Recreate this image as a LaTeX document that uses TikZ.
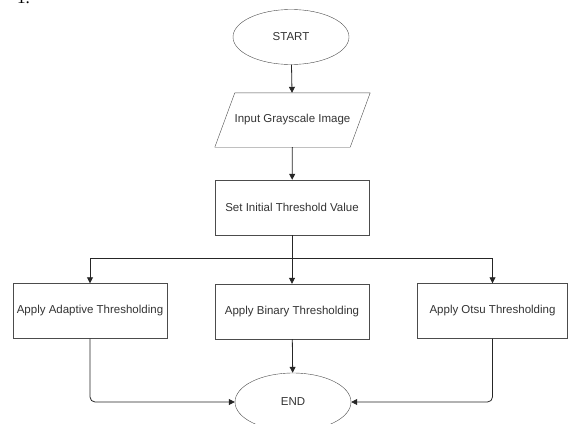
\documentclass[tikz,border=0pt]{standalone}
\usepackage{fontspec}
\setmainfont{Liberation Sans}
\newfontfamily\numfont{Liberation Serif}
\usepackage{tikz}
\usetikzlibrary{arrows.meta,shapes.geometric}

\begin{document}
\begin{tikzpicture}[x=1pt,y=-1pt,>={Triangle[length=6pt,width=6pt]},
  every node/.style={font=\fontsize{11.5}{13}\selectfont,text=black!80},
  term/.style={draw=black!70,ellipse,minimum width=116pt,minimum height=55pt,inner sep=0pt},
  io/.style={rectangle,minimum width=135pt,minimum height=54pt,inner sep=0pt},
  proc/.style={draw=black!70,rectangle,minimum width=154pt,minimum height=55pt,inner sep=0pt},
  flow/.style={->,draw=black!85,line width=0.8pt}]
  \useasboundingbox (0,0) rectangle (569,423);
  \clip (0,0) rectangle (569,423);

  % leftover caption number
  \node[anchor=base west,inner sep=0pt,font=\numfont\fontsize{17}{18}\selectfont,text=black] (num) at (17,3) {1.};

  % main column
  \node[term] (start) at (291,37) {START};
  \node[io] (input) at (292.5,120) {Input Grayscale Image};
  \draw[black!70] ([xshift=-10pt]input.south west) -- ([xshift=10pt]input.north west)
    -- ([xshift=10pt]input.north east) -- ([xshift=-10pt]input.south east) -- cycle;
  \node[proc] (thresh) at (292,207.5) {Set Initial Threshold Value};
  \coordinate (split) at (292,258);

  % three methods
  \node[proc] (adaptive) at (90,311) {Apply Adaptive Thresholding};
  \node[proc] (binary) at (292,311.5) {Apply Binary Thresholding};
  \node[proc,minimum width=150pt] (otsu) at (492.5,311) {Apply Otsu Thresholding};
  \node[term,minimum height=58pt] (end) at (293,402) {END};

  \draw[flow] (start) -- (input);
  \draw[flow] (input) -- (thresh);
  \draw[draw=black!85,line width=0.8pt] (thresh) -- (split);
  \draw[flow] (split) -| (adaptive);
  \draw[flow] (split) -| (otsu);
  \draw[flow] (split) -- (binary);
  \draw[flow] (binary) -- (end);
  \draw[flow,rounded corners=5pt] (adaptive.south) |- (end.west);
  \draw[flow,rounded corners=5pt] (otsu.south) |- (end.east);
\end{tikzpicture}
\end{document}
